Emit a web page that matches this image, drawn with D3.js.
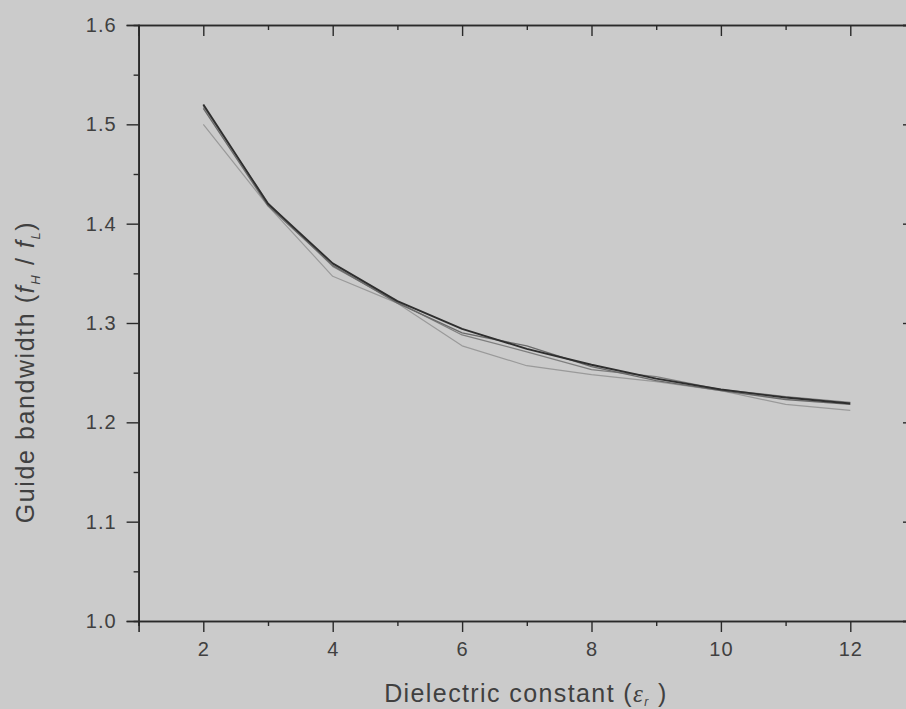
<!DOCTYPE html>
<html>
<head>
<meta charset="utf-8">
<script src="https://cdn.jsdelivr.net/npm/d3@7"></script>
<style>
  body { margin: 0; background: #cbcbcb; }
  svg { display: block; }
  text { font-family: "Liberation Sans", Arial, sans-serif; fill: #404040; }
</style>
</head>
<body>
<div id="chart"></div>
<script>
// permittivity values on the x axis
var epsR = [2, 3, 4, 5, 6, 7, 8, 9, 10, 11, 12];
// guide bandwidth fH/fL
var bwMain = [1.520, 1.420, 1.360, 1.322, 1.294, 1.274, 1.258, 1.244, 1.233, 1.225, 1.219];
var bwGrayA = [1.516, 1.418, 1.358, 1.320, 1.290, 1.277, 1.256, 1.242, 1.232, 1.223, 1.218];
var bwGrayB = [1.518, 1.421, 1.357, 1.321, 1.288, 1.271, 1.253, 1.246, 1.233, 1.226, 1.220];
var bwLight = [1.500, 1.418, 1.347, 1.320, 1.277, 1.257, 1.248, 1.241, 1.232, 1.218, 1.212];

var xMajor = [2, 4, 6, 8, 10, 12];
var xMinor = [1, 3, 5, 7, 9, 11, 13];
var yMajor = [1.0, 1.1, 1.2, 1.3, 1.4, 1.5, 1.6];
var yMinor = [1.05, 1.15, 1.25, 1.35, 1.45, 1.55];

var width = 906, height = 709;
var plotLeft = 138.6, plotRight = 915, plotTop = 25, plotBottom = 621;

var svg = d3.select("#chart")
    .append("svg")
    .attr("width", width)
    .attr("height", height);

var x = d3.scaleLinear().domain([1, 13]).range([plotLeft, plotRight]);
var y = d3.scaleLinear().domain([1.0, 1.6]).range([plotBottom, plotTop]);

function styleAxis(g) {
    g.select(".domain").attr("stroke", "#2a2a2a").attr("stroke-width", 1.6);
    g.selectAll(".tick line").attr("stroke", "#2a2a2a").attr("stroke-width", 1.4);
    g.selectAll("text")
        .style("font-size", "20px")
        .style("letter-spacing", "1px")
        .style("font-family", "'Liberation Sans', Arial, sans-serif")
        .attr("fill", "#444");
}

// bottom axis, ticks outward
svg.append("g")
    .attr("transform", "translate(0," + plotBottom + ")")
    .call(d3.axisBottom(x).tickValues(xMajor).tickSize(11).tickPadding(10).tickFormat(d3.format("d")))
    .call(styleAxis);
svg.append("g")
    .attr("transform", "translate(0," + plotBottom + ")")
    .call(d3.axisBottom(x).tickValues(xMinor).tickSize(5).tickFormat(""))
    .call(styleAxis);

// top axis, ticks inward
svg.append("g")
    .attr("transform", "translate(0," + plotTop + ")")
    .call(d3.axisTop(x).tickValues(xMajor).tickSize(-11).tickFormat(""))
    .call(styleAxis);
svg.append("g")
    .attr("transform", "translate(0," + plotTop + ")")
    .call(d3.axisTop(x).tickValues(xMinor).tickSize(-5).tickFormat(""))
    .call(styleAxis);

// left axis, ticks outward
svg.append("g")
    .attr("transform", "translate(" + plotLeft + ",0)")
    .call(d3.axisLeft(y).tickValues(yMajor).tickSize(12).tickPadding(10).tickFormat(d3.format(".1f")))
    .call(styleAxis);
svg.append("g")
    .attr("transform", "translate(" + plotLeft + ",0)")
    .call(d3.axisLeft(y).tickValues(yMinor).tickSize(5).tickFormat(""))
    .call(styleAxis);

// right axis, ticks inward
svg.append("g")
    .attr("transform", "translate(" + plotRight + ",0)")
    .call(d3.axisRight(y).tickValues(yMajor).tickSize(-12).tickFormat(""))
    .call(styleAxis);
svg.append("g")
    .attr("transform", "translate(" + plotRight + ",0)")
    .call(d3.axisRight(y).tickValues(yMinor).tickSize(-5).tickFormat(""))
    .call(styleAxis);

var line = d3.line()
    .x(function (d) { return x(d[0]); })
    .y(function (d) { return y(d[1]); });

var series = [
    { values: bwLight, stroke: "#9a9a9a", w: 1.2 },
    { values: bwGrayB, stroke: "#7e7e7e", w: 1.2 },
    { values: bwGrayA, stroke: "#6a6a6a", w: 1.3 },
    { values: bwMain, stroke: "#2e2e2e", w: 1.9 }
];

series.forEach(function (s) {
    svg.append("path")
        .attr("d", line(epsR.map(function (e, i) { return [e, s.values[i]]; })))
        .attr("fill", "none")
        .attr("stroke", s.stroke)
        .attr("stroke-width", s.w)
        .attr("stroke-linejoin", "round");
});

// axis titles
var xt = svg.append("text")
    .attr("x", 526)
    .attr("y", 702)
    .attr("text-anchor", "middle")
    .style("font-size", "25px")
    .style("letter-spacing", "1.4px");
xt.append("tspan").text("Dielectric constant (");
xt.append("tspan").style("font-style", "italic").style("font-family", "'Liberation Serif', serif").text("ε");
xt.append("tspan").attr("dy", 4).style("font-size", "12px").style("font-style", "italic").text("r");
xt.append("tspan").attr("dy", -4).text(" )");

var yt = svg.append("text")
    .attr("transform", "translate(34,372)rotate(-90)")
    .attr("text-anchor", "middle")
    .style("font-size", "25px")
    .style("letter-spacing", "1.6px");
yt.append("tspan").text("Guide bandwidth (");
yt.append("tspan").style("font-style", "italic").text("f");
yt.append("tspan").attr("dy", 6).style("font-size", "13px").style("font-style", "italic").text("H");
yt.append("tspan").attr("dy", -6).text(" / ");
yt.append("tspan").style("font-style", "italic").text("f");
yt.append("tspan").attr("dy", 6).style("font-size", "13px").style("font-style", "italic").text("L");
yt.append("tspan").attr("dy", -6).text(")");
</script>
</body>
</html>
